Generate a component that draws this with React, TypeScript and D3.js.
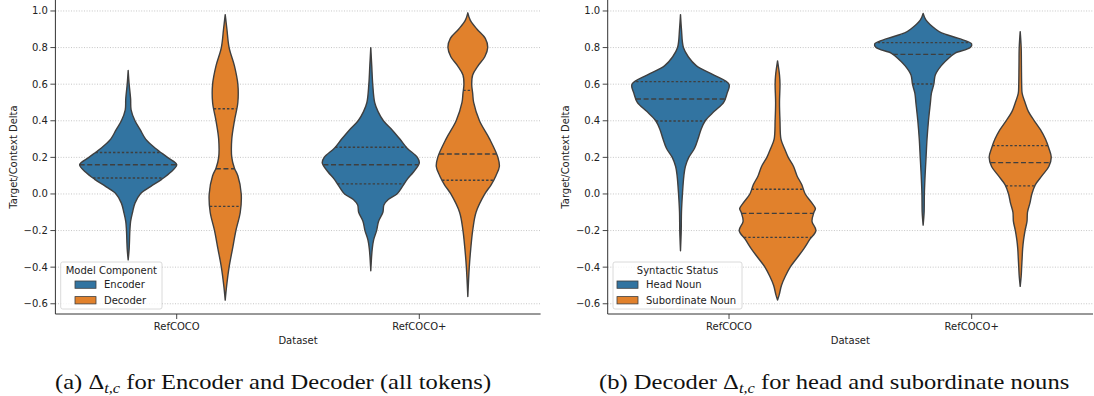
import React from 'react';
import * as d3 from 'd3';

const datasets = ['RefCOCO', 'RefCOCO+'];
const yTicks = [-0.6, -0.4, -0.2, 0.0, 0.2, 0.4, 0.6, 0.8, 1.0];
const palette = ['#3274a1', '#e1812c'];

// violin outlines: [value, relative density]
const encoderRefcoco = [[0.675, 0], [0.6, 0.02], [0.52, 0.05], [0.46, 0.06], [0.4, 0.14], [0.35, 0.25], [0.3, 0.36], [0.25, 0.56], [0.2, 0.81], [0.16, 1.0], [0.12, 0.88], [0.08, 0.69], [0.04, 0.46], [0.0, 0.25], [-0.05, 0.14], [-0.1, 0.09], [-0.15, 0.05], [-0.2, 0.035], [-0.3, 0.02], [-0.36, 0]];
const decoderRefcoco = [[0.98, 0], [0.9, 0.035], [0.8, 0.08], [0.7, 0.19], [0.6, 0.26], [0.5, 0.26], [0.4, 0.19], [0.3, 0.135], [0.2, 0.135], [0.14, 0.19], [0.1, 0.26], [0.0, 0.33], [-0.1, 0.31], [-0.2, 0.22], [-0.3, 0.15], [-0.4, 0.08], [-0.5, 0.03], [-0.58, 0]];
const encoderRefcocoPlus = [[0.8, 0], [0.7, 0.02], [0.6, 0.04], [0.5, 0.08], [0.45, 0.15], [0.4, 0.26], [0.35, 0.44], [0.3, 0.6], [0.25, 0.75], [0.2, 0.96], [0.17, 1.0], [0.12, 0.88], [0.08, 0.75], [0.04, 0.65], [0.0, 0.54], [-0.03, 0.36], [-0.06, 0.27], [-0.1, 0.25], [-0.15, 0.16], [-0.2, 0.12], [-0.25, 0.06], [-0.3, 0.03], [-0.42, 0]];
const decoderRefcocoPlus = [[0.99, 0], [0.95, 0.05], [0.9, 0.19], [0.85, 0.36], [0.8, 0.41], [0.75, 0.35], [0.7, 0.21], [0.65, 0.1], [0.6, 0.08], [0.55, 0.1], [0.5, 0.12], [0.4, 0.24], [0.3, 0.45], [0.2, 0.62], [0.15, 0.65], [0.1, 0.58], [0.05, 0.48], [0.0, 0.35], [-0.1, 0.17], [-0.2, 0.1], [-0.3, 0.06], [-0.4, 0.03], [-0.56, 0]];

const headRefcoco = [[0.98, 0], [0.9, 0.02], [0.8, 0.06], [0.75, 0.16], [0.7, 0.33], [0.65, 0.69], [0.6, 1.0], [0.55, 0.96], [0.5, 0.89], [0.45, 0.69], [0.4, 0.51], [0.35, 0.42], [0.3, 0.36], [0.25, 0.29], [0.2, 0.17], [0.15, 0.1], [0.1, 0.07], [0.0, 0.04], [-0.1, 0.02], [-0.2, 0.015], [-0.31, 0]];
const subordinateRefcoco = [[0.727, 0], [0.65, 0.04], [0.6, 0.05], [0.5, 0.04], [0.4, 0.05], [0.3, 0.07], [0.25, 0.14], [0.2, 0.22], [0.15, 0.33], [0.1, 0.4], [0.05, 0.5], [0.0, 0.57], [-0.05, 0.71], [-0.08, 0.78], [-0.1, 0.75], [-0.15, 0.71], [-0.2, 0.79], [-0.25, 0.66], [-0.3, 0.54], [-0.35, 0.4], [-0.4, 0.26], [-0.45, 0.16], [-0.5, 0.08], [-0.55, 0.035], [-0.58, 0]];
const headRefcocoPlus = [[0.987, 0], [0.95, 0.06], [0.9, 0.26], [0.88, 0.38], [0.85, 0.73], [0.82, 1.0], [0.8, 0.97], [0.77, 0.66], [0.75, 0.56], [0.7, 0.37], [0.65, 0.25], [0.6, 0.22], [0.55, 0.17], [0.5, 0.15], [0.4, 0.11], [0.3, 0.08], [0.2, 0.06], [0.1, 0.04], [0.0, 0.025], [-0.1, 0.02], [-0.17, 0]];
const subordinateRefcocoPlus = [[0.887, 0], [0.8, 0.02], [0.7, 0.025], [0.6, 0.03], [0.55, 0.04], [0.5, 0.1], [0.45, 0.17], [0.4, 0.29], [0.35, 0.42], [0.3, 0.52], [0.25, 0.59], [0.2, 0.64], [0.15, 0.59], [0.1, 0.45], [0.05, 0.31], [0.0, 0.24], [-0.05, 0.2], [-0.1, 0.15], [-0.15, 0.14], [-0.2, 0.1], [-0.25, 0.07], [-0.3, 0.05], [-0.35, 0.04], [-0.4, 0.03], [-0.45, 0.02], [-0.505, 0]];

// quartiles [q1, median, q3]
const encoderRefcocoQ = [0.087, 0.16, 0.227];
const decoderRefcocoQ = [-0.068, 0.138, 0.466];
const encoderRefcocoPlusQ = [0.055, 0.16, 0.255];
const decoderRefcocoPlusQ = [0.075, 0.218, 0.566];
const headRefcocoQ = [0.399, 0.519, 0.614];
const subordinateRefcocoQ = [-0.237, -0.106, 0.026];
const headRefcocoPlusQ = [0.601, 0.763, 0.827];
const subordinateRefcocoPlusQ = [0.044, 0.171, 0.264];

const W = 1094, H = 396;
const plotTop = 0, plotBottom = 314;
const edge = '#3f3f3f';
const font = 'DejaVu Sans, sans-serif';

function densityAt(profile, v) {
  for (let i = 0; i < profile.length - 1; i++) {
    const [a, da] = profile[i];
    const [b, db] = profile[i + 1];
    if (v <= a && v >= b) return da + (db - da) * (a - v) / (a - b);
  }
  return 0;
}

function Panel({ left, right, groups, legendTitle, legendWidth, patchOffset, violins, quartiles }) {
  const x = d3.scaleLinear().domain([-0.5, 1.5]).range([left, right]);
  const y = d3.scaleLinear().domain([-0.656, 1.06]).range([plotBottom, plotTop]);
  const fmt = d3.format('.1f');
  const half = (d) => x(d * 0.2) - x(0);
  const lx = left + 5.3, ly = 262;

  return (
    <g>
      {yTicks.map((t) => (
        <line key={'g' + t} x1={left} x2={right} y1={y(t)} y2={y(t)} stroke="#b8b8b8" strokeWidth={0.8} strokeDasharray="1,1.6" />
      ))}
      {datasets.map((ds, ci) =>
        groups.map((g, gi) => {
          const cx = x(ci + (gi === 0 ? -0.2 : 0.2));
          const prof = violins[ci][gi];
          const area = d3.area()
            .y((d) => y(d[0]))
            .x0((d) => cx - half(d[1]))
            .x1((d) => cx + half(d[1]))
            .curve(d3.curveCatmullRom);
          return (
            <g key={ds + g}>
              <path d={area(prof)} fill={palette[gi]} stroke={edge} strokeWidth={1.4} strokeLinejoin="round" />
              {quartiles[ci][gi].map((q, qi) => {
                const w = half(densityAt(prof, q));
                return (
                  <line key={qi} x1={cx - w} x2={cx + w} y1={y(q)} y2={y(q)} stroke={edge} strokeWidth={1.4}
                    strokeDasharray={qi === 1 ? '5,2.6' : '2.4,2'} />
                );
              })}
            </g>
          );
        })
      )}
      <line x1={left} x2={left} y1={plotTop} y2={plotBottom} stroke="#333" strokeWidth={1} />
      <line x1={left} x2={right} y1={plotBottom} y2={plotBottom} stroke="#333" strokeWidth={1} />
      {yTicks.map((t) => (
        <g key={'t' + t}>
          <line x1={left - 5} x2={left} y1={y(t)} y2={y(t)} stroke="#333" strokeWidth={0.9} />
          <text x={left - 7.5} y={y(t)} dy="0.35em" textAnchor="end" fontSize={10} fontFamily={font} fill="#222">{fmt(t)}</text>
        </g>
      ))}
      {datasets.map((ds, ci) => (
        <g key={'x' + ds}>
          <line x1={x(ci)} x2={x(ci)} y1={plotBottom} y2={plotBottom + 5} stroke="#333" strokeWidth={0.9} />
          <text x={x(ci)} y={plotBottom + 16} textAnchor="middle" fontSize={10} fontFamily={font} fill="#222">{ds}</text>
        </g>
      ))}
      <text x={(left + right) / 2} y={plotBottom + 30} textAnchor="middle" fontSize={10} fontFamily={font} fill="#222">Dataset</text>
      <text transform={`translate(${left - 42},${157}) rotate(-90)`} textAnchor="middle" dy="0.35em" fontSize={10} fontFamily={font} fill="#222">Target/Context Delta</text>

      <rect x={lx} y={ly} width={legendWidth} height={47} rx={2} fill="#fff" fillOpacity={0.8} stroke="#d0d0d0" strokeWidth={0.8} />
      <text x={lx + legendWidth / 2} y={ly + 11.5} textAnchor="middle" fontSize={10} fontFamily={font} fill="#222">{legendTitle}</text>
      {groups.map((g, gi) => (
        <g key={'l' + g}>
          <rect x={lx + patchOffset} y={ly + 19 + gi * 15.6} width={21} height={7.3} fill={palette[gi]} stroke={edge} strokeWidth={0.8} />
          <text x={lx + patchOffset + 29} y={ly + 22.6 + gi * 15.6} dy="0.35em" fontSize={10} fontFamily={font} fill="#222">{g}</text>
        </g>
      ))}
    </g>
  );
}

function Caption({ x0, label, pre, post }) {
  return (
    <text transform={`translate(${x0},389) scale(1.17,1)`} fontSize={21} fontFamily="Liberation Serif, Times New Roman, serif" fill="#111">
      {label} {pre}Δ<tspan fontStyle="italic" fontSize={14} dy={4}>t,c</tspan><tspan dy={-4}> {post}</tspan>
    </text>
  );
}

export default function App() {
  return (
    <svg width={W} height={H} style={{ position: 'absolute', left: 0, top: 0, background: '#fff' }}>
      <Panel
        left={55.4}
        right={540.6}
        groups={['Encoder', 'Decoder']}
        legendTitle="Model Component"
        legendWidth={101.3}
        patchOffset={14.3}
        violins={[[encoderRefcoco, decoderRefcoco], [encoderRefcocoPlus, decoderRefcocoPlus]]}
        quartiles={[[encoderRefcocoQ, decoderRefcocoQ], [encoderRefcocoPlusQ, decoderRefcocoPlusQ]]}
      />
      <Panel
        left={607.7}
        right={1093}
        groups={['Head Noun', 'Subordinate Noun']}
        legendTitle="Syntactic Status"
        legendWidth={129}
        patchOffset={4}
        violins={[[headRefcoco, subordinateRefcoco], [headRefcocoPlus, subordinateRefcocoPlus]]}
        quartiles={[[headRefcocoQ, subordinateRefcocoQ], [headRefcocoPlusQ, subordinateRefcocoPlusQ]]}
      />
      <Caption x0={55} label="(a)" pre="" post="for Encoder and Decoder (all tokens)" />
      <Caption x0={599} label="(b)" pre="Decoder " post="for head and subordinate nouns" />
    </svg>
  );
}
